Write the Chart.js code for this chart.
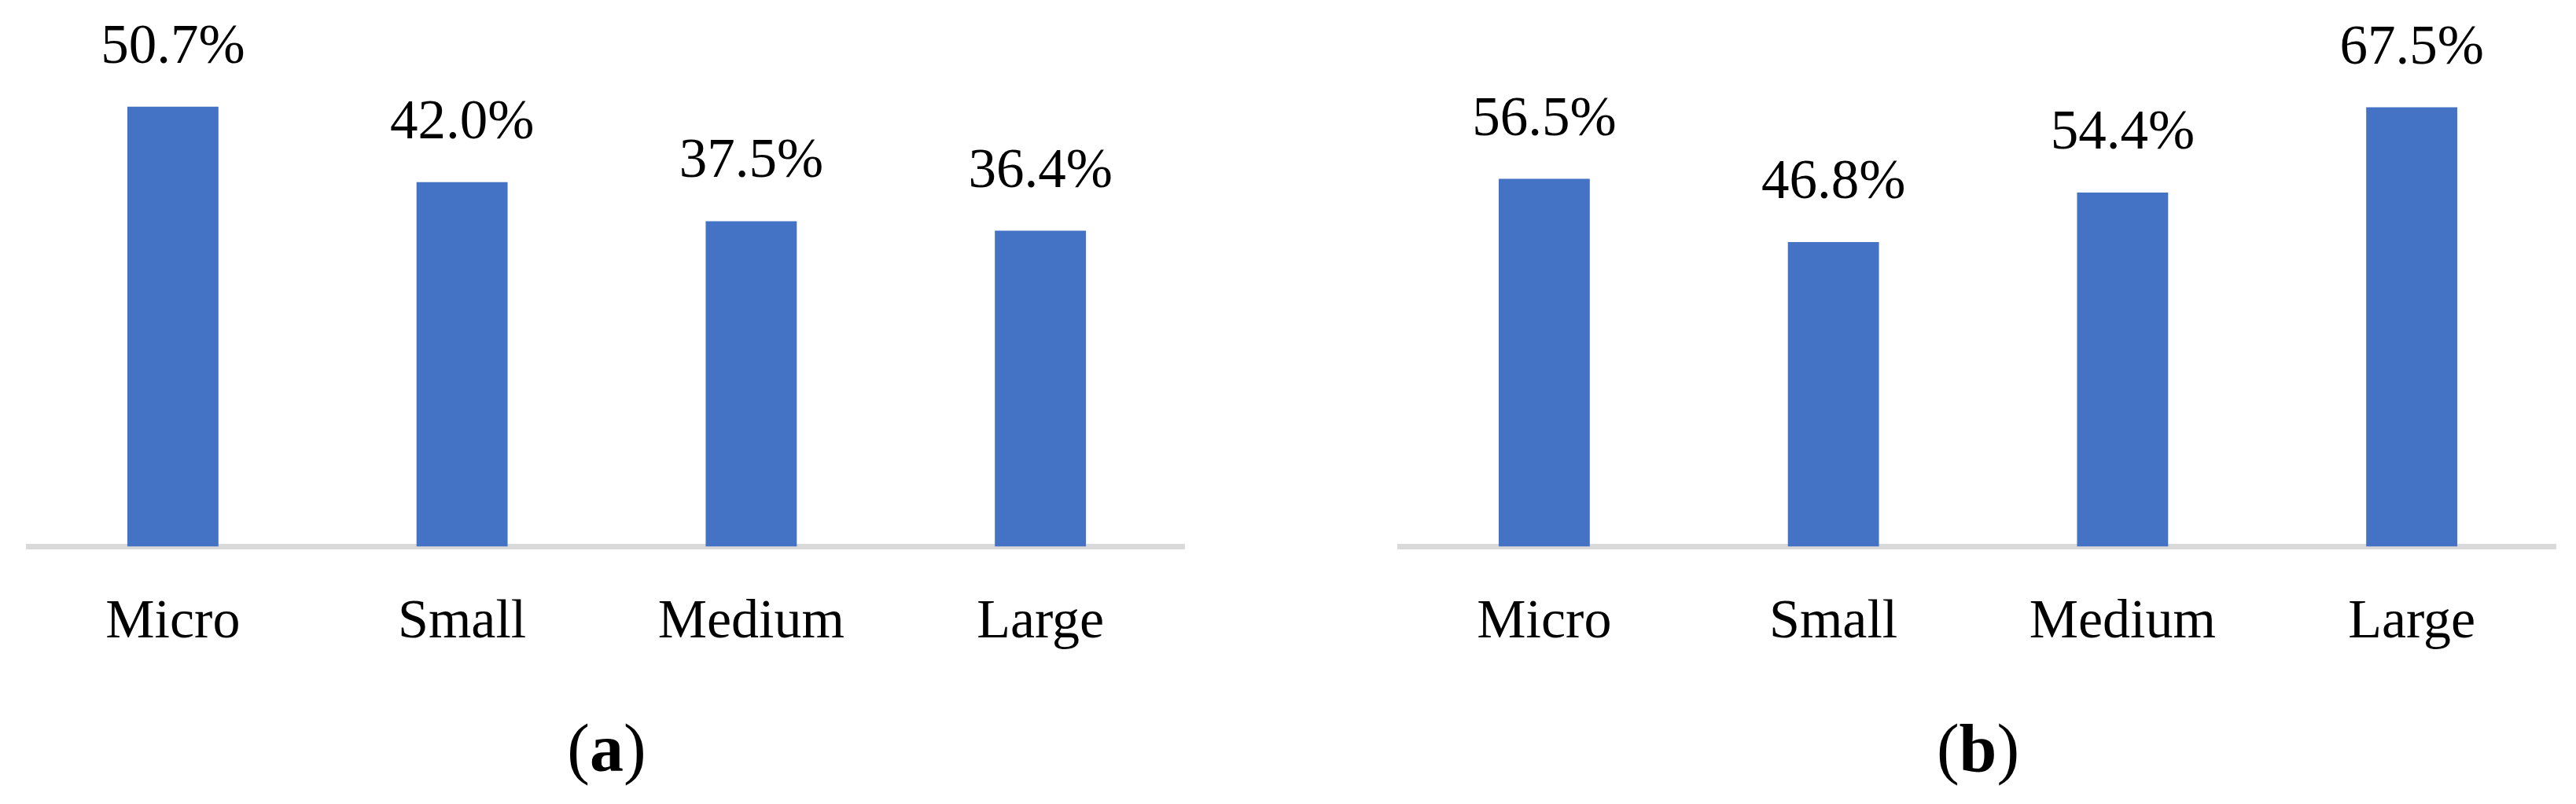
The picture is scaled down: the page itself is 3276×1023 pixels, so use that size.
<!DOCTYPE html>
<html><head><meta charset="utf-8">
<script src="https://cdn.jsdelivr.net/npm/chart.js@4.4.1/dist/chart.umd.min.js"></script>
<style>
html,body{margin:0;padding:0;background:#fff;overflow:hidden;width:3276px;height:1023px}
.p{position:absolute;top:0;width:1638px;height:1023px}
canvas{display:block}
</style></head><body>
<div class="p" style="left:0"><canvas id="ca" width="1638" height="1023"></canvas></div>
<div class="p" style="left:1638px"><canvas id="cb" width="1638" height="1023"></canvas></div>
<script>
const categories = ['Micro', 'Small', 'Medium', 'Large'];
const valuesA = [50.7, 42.0, 37.5, 36.4];
const valuesB = [56.5, 46.8, 54.4, 67.5];
const axisMaxA = 60;
const axisMaxB = 80;
const captionA = 'a';
const captionB = 'b';

const FONT = '"Liberation Serif", "Times New Roman", serif';

const valueLabels = {
  id: 'valueLabels',
  afterDatasetsDraw(chart) {
    const ctx = chart.ctx;
    const meta = chart.getDatasetMeta(0);
    const data = chart.data.datasets[0].data;
    ctx.save();
    ctx.font = '71px ' + FONT;
    ctx.fillStyle = '#000';
    ctx.textAlign = 'center';
    ctx.textBaseline = 'alphabetic';
    meta.data.forEach((bar, i) => {
      ctx.fillText(data[i].toFixed(1) + '%', bar.x, bar.y - 56);
    });
    ctx.restore();
  }
};

const captionPlugin = {
  id: 'caption',
  afterDraw(chart, args, opts) {
    const ctx = chart.ctx;
    const ca = chart.chartArea;
    const cx = (ca.left + ca.right) / 2;
    const y = 981;
    const reg = '86px ' + FONT, bold = 'bold 86px ' + FONT;
    ctx.save();
    ctx.fillStyle = '#000';
    ctx.textBaseline = 'alphabetic';
    ctx.textAlign = 'left';
    ctx.font = reg; const w1 = ctx.measureText('(').width; const w3 = ctx.measureText(')').width;
    ctx.font = bold; const w2 = ctx.measureText(opts.text).width;
    let x = cx - (w1 + w2 + w3) / 2;
    ctx.font = reg; ctx.fillText('(', x, y); x += w1;
    ctx.font = bold; ctx.fillText(opts.text, x, y); x += w2;
    ctx.font = reg; ctx.fillText(')', x, y);
    ctx.restore();
  }
};

function makeChart(id, values, maxV, caption, padLeft, padRight) {
  return new Chart(document.getElementById(id), {
    type: 'bar',
    data: {
      labels: categories,
      datasets: [{
        data: values,
        backgroundColor: '#4472C4',
        borderWidth: 0,
        categoryPercentage: 1,
        barPercentage: 0.315
      }]
    },
    options: {
      responsive: false,
      animation: false,
      devicePixelRatio: 1,
      layout: { padding: { top: 33, left: padLeft, right: padRight, bottom: 127.5 } },
      plugins: {
        legend: { display: false },
        tooltip: { enabled: false },
        caption: { text: caption }
      },
      scales: {
        x: {
          z: 1,
          grid: { display: false, drawTicks: false, lineWidth: 0 },
          border: { display: true, color: '#D9D9D9', width: 7 },
          ticks: { color: '#000', font: { family: FONT, size: 70 }, padding: 55, maxRotation: 0 },
          afterFit(axis) { axis.height = 200; }
        },
        y: {
          display: false,
          min: 0,
          max: maxV
        }
      }
    },
    plugins: [valueLabels, captionPlugin]
  });
}

makeChart('ca', valuesA, axisMaxA, captionA, 36, 131);
makeChart('cb', valuesB, axisMaxB, captionB, 142, 25);
</script>
</body></html>
